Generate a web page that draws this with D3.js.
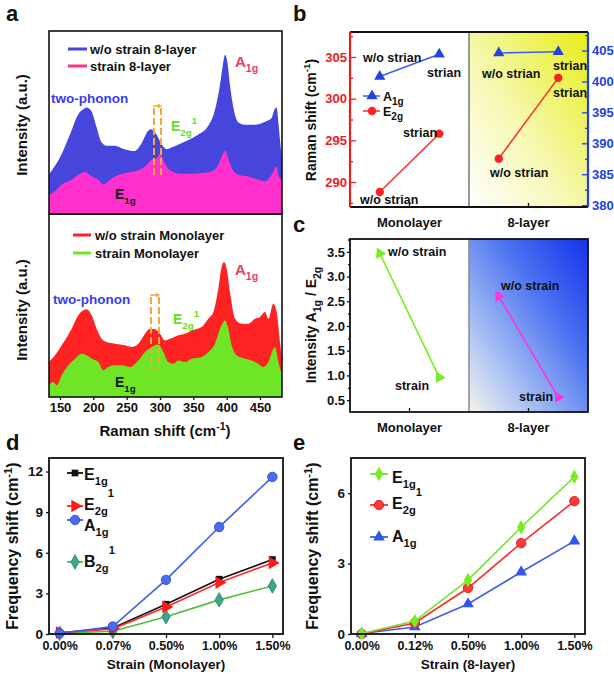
<!DOCTYPE html>
<html><head><meta charset="utf-8">
<script src="https://cdn.jsdelivr.net/npm/d3@7"></script>
<style>
body{margin:0;background:#fff;}
text{font-family:"Liberation Sans",Arial,sans-serif;font-weight:bold;}
</style></head><body>
<svg id="fig" width="614" height="674"></svg>
<script>
// ---------- DATA ----------
// panel a: Raman spectra [shift cm-1, intensity a.u.]
const ramanTicks = [150,200,250,300,350,400,450];
const specWoStrain8 = [[133,21],[137,23],[152,32],[167,45],[177,54],[185,57],[190,58],[197,56],[205,47],[212,39],[220,37],[232,37],[247,35],[262,34],[272,38],[282,45],[287,46],[295,43],[302,38],[310,35],[317,36],[327,37.5],[342,40],[357,43],[372,47.6],[382,56],[390,70.5],[395,83],[397.5,87],[401,83],[405,70],[410,58],[417,50],[427,48.5],[442,48.5],[457,50],[467,52],[472,57],[475,58],[477.5,50],[480,40],[483,30]];
const specStrain8 = [[133,10],[142.5,12],[152.5,15.6],[167.5,18.3],[177.5,21],[187.5,22.5],[197.5,20],[207.5,18.3],[215,15.6],[222.5,17.4],[232.5,20],[247.5,22],[262.5,23],[277.5,25.6],[287.5,29.3],[295,30],[300,32.4],[305,29.3],[310,25.6],[317.5,23],[332.5,21.6],[347.5,21.6],[362.5,22],[377.5,23],[387.5,26.5],[392.5,31],[397.5,34],[402.5,30],[407.5,24.7],[417.5,21],[432.5,20],[447.5,18.3],[457.5,17.4],[467.5,21],[475,25.6],[477.5,21],[483,18]];
const specWoStrainMono = [[133,19.2],[142.5,22.9],[152.5,28.4],[167.5,37.5],[177.5,44.9],[185,47.6],[190,48.2],[197.5,44.9],[205,37.5],[212.5,32],[220,30.2],[232.5,29.3],[247.5,28.4],[257.5,27.5],[267.5,29.3],[277.5,34.8],[285,37.5],[292.5,37.2],[300,34.8],[307.5,31.1],[315,32],[327.5,33.9],[337.5,34.8],[347.5,36.6],[362.5,38.5],[372.5,43],[380,46.7],[387.5,59.5],[392.5,71.4],[396,74.2],[400,70.5],[405,57.7],[412.5,43],[422.5,40.3],[432.5,40.3],[442.5,43],[450,44],[457.5,46.7],[462.5,43],[470,51.3],[475,46.7],[480,30],[483,20]];
const specStrainMono = [[133,6.4],[140,8.2],[145,6.4],[152.5,11.9],[162.5,17.4],[172.5,21],[182.5,23.8],[190,22.9],[197.5,21],[207.5,19.2],[215,14.7],[222.5,16.5],[232.5,17.4],[242.5,17.4],[255,16.5],[267.5,20.1],[277.5,24.7],[287.5,27.5],[297.5,28.8],[305,24.7],[312.5,19.2],[320,18.3],[327.5,20.1],[337.5,19.2],[347.5,21],[362.5,22],[372.5,24.7],[382.5,29.3],[390,37.5],[395,41.2],[397.5,42.1],[402.5,37.5],[407.5,28.4],[415,22.9],[427.5,21],[437.5,20.1],[447.5,18.3],[455,16.5],[462.5,19.2],[470,26.5],[472.5,27.5],[477.5,19.2],[483,12]];
const dashTop = [291, 301.5];
const dashBot = [286.5, 298.5];

// panel b: Raman shift
const bGroups = ["Monolayer","8-layer"];
const bA1g = [[400.8,404.4],[404.6,404.8]];   // right axis
const bE2g = [[288.8,295.8],[292.8,302.5]];   // left axis
const bLeftTicks = [290,295,300,305];
const bRightTicks = [380,385,390,395,400,405];

// panel c: intensity ratio
const cRatio = [[3.47,0.96],[2.6,0.56]];
const cTicks = [0.5,1.0,1.5,2.0,2.5,3.0,3.5];

// panel d: monolayer frequency shift
const dCats = ["0.00%","0.07%","0.50%","1.00%","1.50%"];
const dE1g = [0.05,0.45,2.2,4.05,5.5];
const dE2g = [0.1,0.38,2.0,3.8,5.25];
const dA1g = [0.05,0.55,4.0,7.9,11.6];
const dB2g = [0.05,0.2,1.28,2.52,3.55];
const dTicks = [0,3,6,9,12];

// panel e: 8-layer frequency shift
const eCats = ["0.00%","0.12%","0.50%","1.00%","1.50%"];
const eE1g = [0.02,0.55,2.3,4.55,6.7];
const eE2g = [0.0,0.47,1.96,3.87,5.66];
const eA1g = [0.02,0.3,1.28,2.64,3.96];
const eTicks = [0,3,6];

// ---------- DRAW ----------
const svg = d3.select("#fig");
const defs = svg.append("defs");

function rich(g, x, y, parts, size, color, anchor, rot){
  const t = g.append("text").attr("font-size",size).attr("fill",color).attr("text-anchor",anchor||"start");
  if(rot){ t.attr("transform",`translate(${x},${y}) rotate(-90)`); } else { t.attr("x",x).attr("y",y); }
  let cur = 0;
  parts.forEach(p=>{
    const pp = (typeof p === "string") ? {t:p} : p;
    let off = 0;
    if(pp.sub) off = size*0.33;
    if(pp.sup) off = -size*(pp.h||0.45);
    const ts = t.append("tspan").text(pp.t).attr("dy", off-cur);
    if(pp.sub||pp.sup) ts.attr("font-size", size*(pp.s||0.7));
    cur = off;
  });
  return t;
}
function styleAxis(g, color, size){
  g.selectAll("path.domain").remove();
  g.selectAll("line").attr("stroke",color).attr("stroke-width",1.3);
  g.selectAll("text").attr("fill",color).attr("font-size",size).attr("font-family","Liberation Sans, Arial, sans-serif").attr("font-weight","bold");
}

// ===== Panel a =====
const xA = d3.scaleLinear([133.5,483],[49,282]);
const yAt = d3.scaleLinear([0,100],[213,31]);
const yAb = d3.scaleLinear([0,100],[397,215]);
defs.append("clipPath").attr("id","clipAt").append("rect").attr("x",49).attr("y",31).attr("width",233).attr("height",182);
defs.append("clipPath").attr("id","clipAb").append("rect").attr("x",49).attr("y",215).attr("width",233).attr("height",182);
function areaFor(ys){ return d3.area().x(d=>xA(d[0])).y0(ys.range()[0]).y1(d=>ys(d[1])).curve(d3.curveMonotoneX); }
const gAt = svg.append("g").attr("clip-path","url(#clipAt)");
gAt.append("path").attr("d",areaFor(yAt)(specWoStrain8)).attr("fill","#4646dc");
gAt.append("path").attr("d",areaFor(yAt)(specStrain8)).attr("fill","#ff30cc");
const gAb = svg.append("g").attr("clip-path","url(#clipAb)");
gAb.append("path").attr("d",areaFor(yAb)(specWoStrainMono)).attr("fill","#ff2222");
gAb.append("path").attr("d",areaFor(yAb)(specStrainMono)).attr("fill","#6ee626");

// dashed lines
const orange = "#f2a93b";
dashTop.forEach(v=> svg.append("line").attr("x1",xA(v)).attr("x2",xA(v)).attr("y1",108).attr("y2",178).attr("stroke",orange).attr("stroke-width",2).attr("stroke-dasharray","7,3"));
dashBot.forEach(v=> svg.append("line").attr("x1",xA(v)).attr("x2",xA(v)).attr("y1",297).attr("y2",369).attr("stroke",orange).attr("stroke-width",2).attr("stroke-dasharray","7,3"));
function smallArrow(x1,x2,y){
  svg.append("line").attr("x1",x1).attr("x2",x2-3).attr("y1",y).attr("y2",y).attr("stroke",orange).attr("stroke-width",1.5);
  svg.append("path").attr("d",`M${x2},${y} L${x2-4},${y-2.5} L${x2-4},${y+2.5} Z`).attr("fill",orange);
}
smallArrow(xA(dashTop[0])-1, xA(dashTop[1])+1, 106);
smallArrow(xA(dashBot[0])-1, xA(dashBot[1])+1, 295);

svg.append("rect").attr("x",49).attr("y",31).attr("width",233).attr("height",183).attr("fill","none").attr("stroke","#111").attr("stroke-width",1.6);
svg.append("rect").attr("x",49).attr("y",214).attr("width",233).attr("height",183).attr("fill","none").attr("stroke","#111").attr("stroke-width",1.6);

const axA = svg.append("g").attr("transform","translate(0,397)").call(d3.axisBottom(xA).tickValues(ramanTicks).tickSize(3).tickPadding(3));
styleAxis(axA,"#111",13);
rich(svg,165,436,["Raman shift (cm",{t:"-1",sup:true,h:0.4},")"],15,"#111","middle");
rich(svg,27,125,["Intensity (a.u.)"],15,"#111","middle",true);
rich(svg,27,310,["Intensity (a.u.)"],15,"#111","middle",true);

// legends a
function legLine(x1,x2,y,c){ svg.append("line").attr("x1",x1).attr("x2",x2).attr("y1",y).attr("y2",y).attr("stroke",c).attr("stroke-width",3); }
legLine(68,87,49,"#4646dc"); rich(svg,90,54,["w/o strain 8-layer"],13,"#111");
legLine(68,87,66,"#ff3388"); rich(svg,90,71,["strain 8-layer"],13,"#111");
legLine(73,91,235,"#ff2222"); rich(svg,95,240,["w/o strain Monolayer"],13,"#111");
legLine(73,91,253,"#6ee626"); rich(svg,95,258,["strain Monolayer"],13,"#111");
// annotations a
rich(svg,235,67,["A",{t:"1g",sub:true}],15,"#e8405e");
rich(svg,51,103,["two-phonon"],13.5,"#3a3af0");
rich(svg,171,131,["E",{t:"2g",sub:true},{t:"1",sup:true,h:0.5}],14,"#66dd22");
rich(svg,115,199,["E",{t:"1g",sub:true}],14,"#111");
rich(svg,235,275,["A",{t:"1g",sub:true}],15,"#e8405e");
rich(svg,53,304,["two-phonon"],13.5,"#3a3af0");
rich(svg,173,324,["E",{t:"2g",sub:true},{t:"1",sup:true,h:0.5}],14,"#66dd22");
rich(svg,115,387,["E",{t:"1g",sub:true}],14,"#111");

// ===== Panel b =====
const xB = d3.scaleLinear([0,4],[350,588]);
const yBL = d3.scaleLinear([287,308],[207,32]);
const yBR = d3.scaleLinear([379.7,408],[207,32]);
const gy = defs.append("linearGradient").attr("id","gy").attr("x1",0).attr("y1",1).attr("x2",1).attr("y2",0);
gy.append("stop").attr("offset",0).attr("stop-color","#ffffff");
gy.append("stop").attr("offset",0.45).attr("stop-color","#f6f8b0");
gy.append("stop").attr("offset",1).attr("stop-color","#e6ee14");
svg.append("rect").attr("x",xB(2)).attr("y",32).attr("width",xB(4)-xB(2)).attr("height",175).attr("fill","url(#gy)");
svg.append("line").attr("x1",xB(2)).attr("x2",xB(2)).attr("y1",32).attr("y2",207).attr("stroke","#777").attr("stroke-width",1.5);

const axBL = svg.append("g").attr("transform","translate(350,0)").call(d3.axisLeft(yBL).tickValues(bLeftTicks).tickSize(-6).tickPadding(3));
styleAxis(axBL,"#ee1c1c",13);
svg.append("g").attr("transform","translate(350,0)").call(d3.axisLeft(yBL).tickValues([287.5,292.5,297.5,302.5,307.5]).tickSize(-3).tickFormat("")).call(g=>styleAxis(g,"#ee1c1c",13));
const axBR = svg.append("g").attr("transform","translate(588,0)").call(d3.axisRight(yBR).tickValues(bRightTicks).tickSize(-6).tickPadding(4));
styleAxis(axBR,"#1f3fe8",13);
svg.append("g").attr("transform","translate(588,0)").call(d3.axisRight(yBR).tickValues([382.5,387.5,392.5,397.5,402.5,407.5]).tickSize(-3).tickFormat("")).call(g=>styleAxis(g,"#1f3fe8",13));
svg.append("line").attr("x1",350).attr("x2",588).attr("y1",32).attr("y2",32).attr("stroke","#111").attr("stroke-width",1.8);
svg.append("line").attr("x1",350).attr("x2",588).attr("y1",207).attr("y2",207).attr("stroke","#111").attr("stroke-width",1.8);
svg.append("line").attr("x1",350).attr("x2",350).attr("y1",32).attr("y2",207).attr("stroke","#ee1c1c").attr("stroke-width",2.2);
svg.append("line").attr("x1",588).attr("x2",588).attr("y1",32).attr("y2",207).attr("stroke","#1f3fe8").attr("stroke-width",2.2);
[1,3].forEach(v=>svg.append("line").attr("x1",xB(v)).attr("x2",xB(v)).attr("y1",207).attr("y2",203).attr("stroke","#111").attr("stroke-width",1.3));

const triSym = d3.symbol().type(d3.symbolTriangle).size(55);
const cirSym = d3.symbol().type(d3.symbolCircle).size(55);
bGroups.forEach((g,i)=>{
  const xs=[xB(2*i+0.5), xB(2*i+1.5)];
  svg.append("line").attr("x1",xs[0]).attr("x2",xs[1]).attr("y1",yBR(bA1g[i][0])).attr("y2",yBR(bA1g[i][1])).attr("stroke","#3a5ef0").attr("stroke-width",1.5);
  svg.append("line").attr("x1",xs[0]).attr("x2",xs[1]).attr("y1",yBL(bE2g[i][0])).attr("y2",yBL(bE2g[i][1])).attr("stroke","#ff2a2a").attr("stroke-width",1.5);
  [0,1].forEach(j=>{
    svg.append("path").attr("d",triSym()).attr("transform",`translate(${xs[j]},${yBR(bA1g[i][j])})`).attr("fill","#2244dd");
    svg.append("path").attr("d",cirSym()).attr("transform",`translate(${xs[j]},${yBL(bE2g[i][j])})`).attr("fill","#ff2020");
  });
});
// b legend
svg.append("line").attr("x1",363).attr("x2",380).attr("y1",96).attr("y2",96).attr("stroke","#3a5ef0").attr("stroke-width",1.5);
svg.append("path").attr("d",triSym()).attr("transform","translate(372,96)").attr("fill","#2244dd");
rich(svg,383,101,["A",{t:"1g",sub:true,s:0.8}],12.5,"#111");
svg.append("line").attr("x1",363).attr("x2",380).attr("y1",111).attr("y2",111).attr("stroke","#ff2a2a").attr("stroke-width",1.5);
svg.append("path").attr("d",cirSym()).attr("transform","translate(372,111)").attr("fill","#ff2020");
rich(svg,383,116,["E",{t:"2g",sub:true,s:0.8}],12.5,"#111");
// b labels
const bl = [[363,62,"w/o strian"],[427,77,"strian"],[403,137,"strian"],[360,204,"w/o strian"],[482,78,"w/o strian"],[553,70,"strian"],[553,97,"strian"],[490,177,"w/o strian"]];
bl.forEach(d=>rich(svg,d[0],d[1],[d[2]],12.5,"#111"));
rich(svg,316,120,["Raman shift (cm",{t:"-1",sup:true,h:0.4},")"],14,"#111","middle",true);
bGroups.forEach((g,i)=>rich(svg,xB(2*i+1),227,[g],13,"#111","middle"));

// ===== Panel c =====
const yC = d3.scaleLinear([0.26,3.76],[412,239]);
const gb = defs.append("linearGradient").attr("id","gb").attr("x1",0).attr("y1",1).attr("x2",1).attr("y2",0);
gb.append("stop").attr("offset",0).attr("stop-color","#f4f4ee");
gb.append("stop").attr("offset",0.3).attr("stop-color","#a0baf4");
gb.append("stop").attr("offset",0.65).attr("stop-color","#4a70f0");
gb.append("stop").attr("offset",1).attr("stop-color","#1232ec");
svg.append("rect").attr("x",xB(2)).attr("y",239).attr("width",xB(4)-xB(2)).attr("height",173).attr("fill","url(#gb)");
svg.append("line").attr("x1",xB(2)).attr("x2",xB(2)).attr("y1",239).attr("y2",412).attr("stroke","#888").attr("stroke-width",1.5);
svg.append("rect").attr("x",350).attr("y",239).attr("width",238).attr("height",173).attr("fill","none").attr("stroke","#111").attr("stroke-width",1.8);
const axC = svg.append("g").attr("transform","translate(350,0)").call(d3.axisLeft(yC).tickValues(cTicks).tickSize(3).tickPadding(2).tickFormat(d3.format(".1f")));
styleAxis(axC,"#111",13);
svg.append("g").attr("transform","translate(350,0)").call(d3.axisLeft(yC).tickValues([0.75,1.25,1.75,2.25,2.75,3.25,3.75]).tickSize(2).tickFormat("")).call(g=>styleAxis(g,"#111",13));
[1,3].forEach(v=>svg.append("line").attr("x1",xB(v)).attr("x2",xB(v)).attr("y1",412).attr("y2",408).attr("stroke","#111").attr("stroke-width",1.3));
const cCols = ["#77ee22","#ff33dd"];
cRatio.forEach((r,i)=>{
  const x0=xB(2*i+0.5), x1=xB(2*i+1.5), y0=yC(r[0]), y1=yC(r[1]);
  svg.append("line").attr("x1",x0).attr("x2",x1).attr("y1",y0).attr("y2",y1).attr("stroke",cCols[i]).attr("stroke-width",1.6);
  const ang = Math.atan2(y1-y0,x1-x0)*180/Math.PI;
  svg.append("path").attr("d",triSym()).attr("transform",`translate(${x0},${y0}) rotate(${ang-90})`).attr("fill",cCols[i]);
  svg.append("path").attr("d",triSym()).attr("transform",`translate(${x1},${y1}) rotate(90)`).attr("fill",cCols[i]);
});
[[388,256,"w/o strain"],[395,390,"strain"],[501,290,"w/o strain"],[519,401,"strain"]].forEach(d=>rich(svg,d[0],d[1],[d[2]],12.5,"#111"));
rich(svg,316,325,["Intensity A",{t:"1g",sub:true,s:0.75}," / E",{t:"2g",sub:true,s:0.75}],14,"#111","middle",true);
bGroups.forEach((g,i)=>rich(svg,xB(2*i+1),432,[g],13,"#111","middle"));

// ===== Panel d & e helpers =====
function freqPanel(x0,x1,cats,ymax,ticks,series,legend,xTitle,yTitleX,lg){
  const xs = d3.scaleLinear([-0.2,4.2],[x0,x1]);
  const ys = d3.scaleLinear([0,ymax],[634,458]);
  const ax = svg.append("g").attr("transform","translate(0,634)").call(d3.axisBottom(xs).tickValues([0,1,2,3,4]).tickSize(4).tickPadding(3).tickFormat(i=>cats[i]));
  styleAxis(ax,"#111",12.5);
  const ay = svg.append("g").attr("transform",`translate(${x0},0)`).call(d3.axisLeft(ys).tickValues(ticks).tickSize(3).tickPadding(3));
  styleAxis(ay,"#111",13.5);
  series.forEach(s=>{
    svg.append("path").attr("d",d3.line().x((d,i)=>xs(i)).y(d=>ys(d))(s.v)).attr("fill","none").attr("stroke",s.line).attr("stroke-width",1.6);
    s.v.forEach((d,i)=>svg.append("path").attr("d",d3.symbol().type(s.sym).size(s.size)()).attr("transform",`translate(${xs(i)},${ys(d)}) rotate(${s.rot||0})`).attr("fill",s.fill).attr("stroke",s.stroke||"none").attr("stroke-width",0.8));
  });
  svg.append("rect").attr("x",x0).attr("y",458).attr("width",x1-x0).attr("height",176).attr("fill","none").attr("stroke","#111").attr("stroke-width",1.8);
  legend.forEach(l=>{
    const s=l.s;
    svg.append("line").attr("x1",l.x).attr("x2",l.x+lg.len).attr("y1",l.y).attr("y2",l.y).attr("stroke",s.line).attr("stroke-width",1.8);
    svg.append("path").attr("d",d3.symbol().type(s.sym).size(s.size)()).attr("transform",`translate(${l.x+lg.len/2},${l.y}) rotate(${s.rot||0})`).attr("fill",s.fill).attr("stroke",s.stroke||"none").attr("stroke-width",0.8);
    rich(svg,l.x+lg.tx,l.ty,l.parts,16,"#111");
  });
  rich(svg,(x0+x1)/2,669,[xTitle],13.5,"#111","middle");
  rich(svg,yTitleX,546,["Frequency shift (cm",{t:"-1",sup:true,h:0.4},")"],16,"#111","middle",true);
  return xs;
}
const sE1gD = {v:dE1g,line:"#111",fill:"#111",sym:d3.symbolSquare,size:45};
const sE2gD = {v:dE2g,line:"#ff2a2a",fill:"#ff1a1a",sym:d3.symbolTriangle,size:70,rot:90};
const sA1gD = {v:dA1g,line:"#3d5ee8",fill:"#4a6cf0",stroke:"#2a40c0",sym:d3.symbolCircle,size:70};
const sB2gD = {v:dB2g,line:"#4fbf3a",fill:"#3aa888",stroke:"#2a8060",sym:d3.symbolDiamond,size:60};
freqPanel(49,283,dCats,13,dTicks,[sE1gD,sB2gD,sE2gD,sA1gD],[
  {s:sE1gD,x:67,y:473,ty:480,parts:["E",{t:"1g",sub:true}]},
  {s:sE2gD,x:67,y:506,ty:510,parts:["E",{t:"2g",sub:true},{t:"1",sup:true,h:0.8}]},
  {s:sA1gD,x:67,y:520,ty:531,parts:["A",{t:"1g",sub:true}]},
  {s:sB2gD,x:67,y:562,ty:567,parts:["B",{t:"2g",sub:true},{t:"1",sup:true,h:0.8}]}
],"Strain (Monolayer)",18,{len:16,tx:17});

const sE1gE = {v:eE1g,line:"#77e030",fill:"#77ee22",sym:d3.symbolDiamond,size:60};
const sE2gE = {v:eE2g,line:"#ff2a2a",fill:"#ff3a3a",stroke:"#cc1010",sym:d3.symbolCircle,size:70};
const sA1gE = {v:eA1g,line:"#3d5ee8",fill:"#3355ee",sym:d3.symbolTriangle,size:60};
freqPanel(351,585,eCats,7.5,eTicks,[sA1gE,sE2gE,sE1gE],[
  {s:sE1gE,x:370,y:474,ty:483,parts:["E",{t:"1g",sub:true}]},
  {s:sE2gE,x:370,y:505,ty:509,parts:["E",{t:"2g",sub:true},{t:"1",sup:true,h:0.8}]},
  {s:sA1gE,x:370,y:537,ty:542,parts:["A",{t:"1g",sub:true}]}
],"Strain (8-layer)",318,{len:18,tx:22});

// panel letters
[["a",6,21],["b",293,21],["c",293,232],["d",6,450],["e",293,450]].forEach(d=>rich(svg,d[1],d[2],[d[0]],22,"#111"));
</script></body></html>
